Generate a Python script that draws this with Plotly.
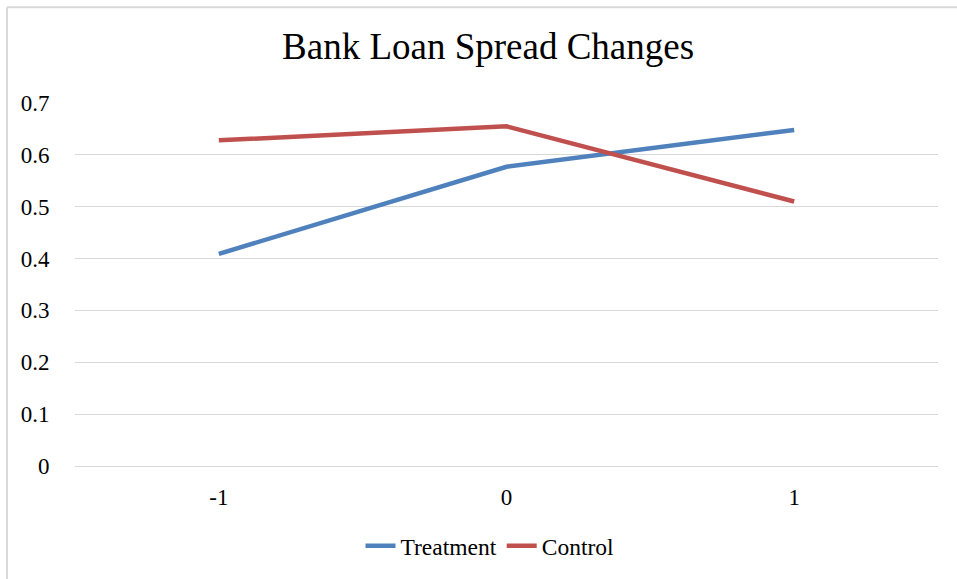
import plotly.graph_objects as go

periods = [-1, 0, 1]
tick_labels = ["-1", "0", "1"]
treatment = [0.409, 0.577, 0.648]
control = [0.628, 0.655, 0.510]
y_ticks = [0, 0.1, 0.2, 0.3, 0.4, 0.5, 0.6, 0.7]
y_tick_labels = ["0", "0.1", "0.2", "0.3", "0.4", "0.5", "0.6", "0.7"]

W, H = 957, 579
ML, MR, MT, MB = 75, 19, 103, 112

FONT = "Liberation Serif"

fig = go.Figure()
fig.add_trace(go.Scatter(x=periods, y=treatment, mode="lines", name="Treatment",
                         line=dict(color="#4F81BD", width=4.5)))
fig.add_trace(go.Scatter(x=periods, y=control, mode="lines", name="Control",
                         line=dict(color="#C0504D", width=4.5)))

pw = W - ML - MR
ph = H - MT - MB
# chart border (left and top visible)
bx0 = (7 - ML) / pw
by1 = 1 + (MT - 7) / ph
fig.add_shape(type="line", xref="paper", yref="paper", x0=bx0, x1=bx0, y0=by1, y1=-1,
              line=dict(color="#D9D9D9", width=2))
fig.add_shape(type="line", xref="paper", yref="paper", x0=bx0, x1=2, y0=by1, y1=by1,
              line=dict(color="#D9D9D9", width=2))

fig.update_layout(
    width=W, height=H,
    margin=dict(l=ML, r=MR, t=MT, b=MB),
    paper_bgcolor="white", plot_bgcolor="white",
    font=dict(family=FONT, size=23, color="black"),
    title=dict(text="Bank Loan Spread Changes", x=0.51, xanchor="center",
               y=1 - 46 / H, yanchor="middle", yref="container",
               font=dict(family=FONT, size=37, color="black")),
    xaxis=dict(range=[-1.5, 1.5], tickvals=periods, ticktext=tick_labels,
               showgrid=False, zeroline=False, showline=False,
               ticks="outside", ticklen=10, tickcolor="rgba(0,0,0,0)",
               tickfont=dict(family=FONT, size=23, color="black")),
    yaxis=dict(range=[0, 0.7], tickvals=y_ticks, ticktext=y_tick_labels,
               showgrid=True, gridcolor="#D9D9D9", gridwidth=1.3,
               zeroline=True, zerolinecolor="#D9D9D9", zerolinewidth=1.3,
               showline=False,
               ticks="outside", ticklen=20, tickcolor="rgba(0,0,0,0)",
               tickfont=dict(family=FONT, size=23, color="black")),
    legend=dict(orientation="h", x=(490 - ML) / pw, xanchor="center",
                y=-(546 - (H - MB)) / ph, yanchor="middle",
                font=dict(family=FONT, size=23.5, color="black"),
                bgcolor="rgba(0,0,0,0)", tracegroupgap=0),
    showlegend=True,
)

fig.write_html("out.html")
